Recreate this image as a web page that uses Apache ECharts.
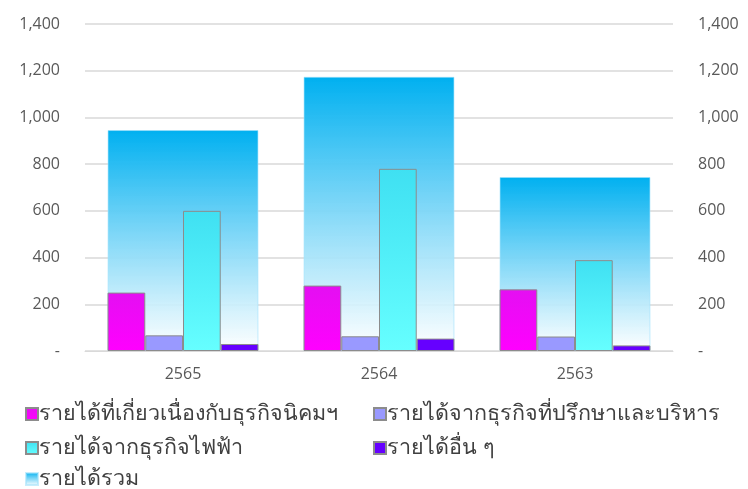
<!DOCTYPE html>
<html><head><meta charset="utf-8">
<script src="https://cdn.jsdelivr.net/npm/echarts@6/dist/echarts.min.js"></script>
<style>html,body{margin:0;padding:0;background:#fff}#c{width:748px;height:489px}</style>
</head><body><div id="c"></div>
<script>
const categories = ['2565', '2564', '2563'];
const nameEstate = 'รายได้ที่เกี่ยวเนื่องกับธุรกิจนิคมฯ';
const nameConsult = 'รายได้จากธุรกิจที่ปรึกษาและบริหาร';
const namePower = 'รายได้จากธุรกิจไฟฟ้า';
const nameOther = 'รายได้อื่น ๆ';
const nameTotal = 'รายได้รวม';
const estate = [250, 280, 264];
const consult = [67, 63, 62];
const power = [600, 780, 389];
const other = [30, 53, 24];
const total = [946, 1174, 745];
const yTicks = [0, 200, 400, 600, 800, 1000, 1200, 1400];

const font = 'Tahoma, "Noto Sans", "DejaVu Sans", sans-serif';
const grad = (a, b) => new echarts.graphic.LinearGradient(0, 0, 0, 1, [{offset: 0, color: a}, {offset: 1, color: b}]);
const fmt = v => v === 0 ? '-' : v.toLocaleString('en-US');
const yAxisBase = {
  type: 'value', min: yTicks[0], max: yTicks[yTicks.length - 1], interval: 200,
  axisLine: {show: false}, axisTick: {show: false},
  axisLabel: {formatter: fmt, color: '#595959', fontSize: 16, margin: 25, fontFamily: 'Open Sans'},
};
const sub = (name, data, color) => ({
  name, type: 'bar', data, xAxisIndex: 0, yAxisIndex: 0, z: 3,
  barGap: '0%', barCategoryGap: '23%',
  itemStyle: {color, borderColor: '#8c8c8c', borderWidth: 1},
});
const legendText = {fontSize: 21.5, lineHeight: 20, color: '#404040', fontFamily: font, padding: [0, 0, 0, -4]};
const leg = (name, left, top) => ({left, top, data: [{name}], itemWidth: 12, itemHeight: 12, padding: 0, icon: 'rect', textStyle: legendText});
const chart = echarts.init(document.getElementById('c'));
chart.setOption({
  animation: false,
  grid: {left: 85, right: 75, top: 24, bottom: 138},
  xAxis: [
    {type: 'category', data: categories, axisTick: {show: false},
     axisLine: {lineStyle: {color: '#d9d9d9'}},
     axisLabel: {color: '#595959', fontSize: 16, margin: 15, fontFamily: 'Open Sans'}},
    {type: 'category', data: categories, show: false},
  ],
  yAxis: [
    Object.assign({}, yAxisBase, {position: 'left', splitLine: {lineStyle: {color: '#d9d9d9', width: 1.5}}}),
    Object.assign({}, yAxisBase, {position: 'right', splitLine: {show: false}, axisLabel: Object.assign({}, yAxisBase.axisLabel, {align: 'left'})}),
  ],
  legend: [
    leg(nameEstate, 25, 403),
    leg(namePower, 25, 437),
    leg(nameTotal, 25, 468),
    leg(nameConsult, 373, 403),
    leg(nameOther, 373, 437),
  ],
  series: [
    {name: nameTotal, type: 'bar', data: total, xAxisIndex: 1, yAxisIndex: 0, barWidth: '77%', z: 1,
     itemStyle: {color: grad('#00b0f0', 'rgba(255,255,255,0.9)'), borderColor: 'rgba(160,225,250,0.6)', borderWidth: 1}},
    sub(nameEstate, estate, grad('#e40ff2', '#ff00ff')),
    sub(nameConsult, consult, '#9999ff'),
    sub(namePower, power, grad('#3fe0f2', '#66ffff')),
    sub(nameOther, other, '#6600ff'),
  ],
});
</script></body></html>
